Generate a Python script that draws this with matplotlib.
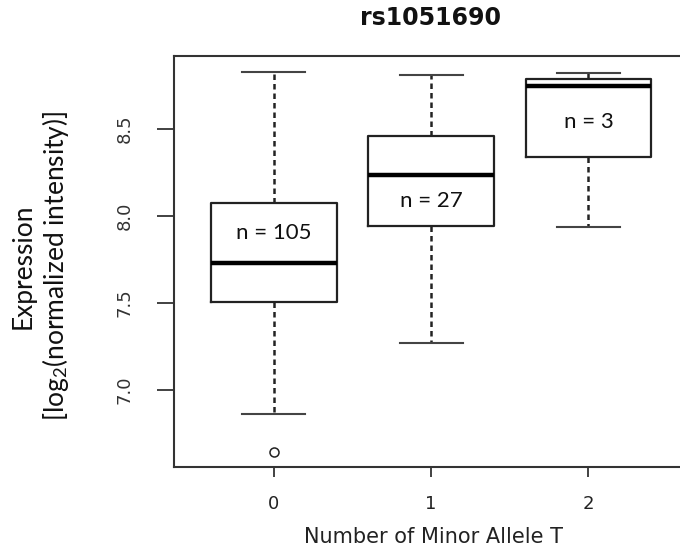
import matplotlib
matplotlib.use("Agg")
import matplotlib.pyplot as plt

# (log2 normalized intensity)
groups = ["0", "1", "2"]
counts = [105, 27, 3]
q1 = [7.505, 7.940, 8.334]
med = [7.729, 8.231, 8.746]
q3 = [8.070, 8.455, 8.783]
whislo = [6.857, 7.267, 7.932]
whishi = [8.825, 8.809, 8.819]
fliers = [[6.643], [], []]

plt.rcParams['mathtext.fontset'] = 'custom'
plt.rcParams['mathtext.rm'] = 'Lato'
plt.rcParams['mathtext.it'] = 'Lato:italic'

W, H = 680, 548
fig = plt.figure(figsize=(W / 100, H / 100), dpi=100)
# axes box in pixels: left 174, right 686 (runs off the edge), top 56, bottom 467
ax = fig.add_axes([174 / W, (H - 467) / H, (686 - 174) / W, (467 - 56) / H])

stats = []
for i in range(len(groups)):
    stats.append(dict(med=med[i], q1=q1[i], q3=q3[i], whislo=whislo[i],
                      whishi=whishi[i], fliers=fliers[i], label=groups[i]))

ink = "#222222"
ax.bxp(stats, positions=range(len(groups)), widths=0.8,
       boxprops=dict(color=ink, linewidth=1.6),
       medianprops=dict(color="black", linewidth=3.2),
       whiskerprops=dict(color=ink, linewidth=1.8, linestyle=(0, (2.2, 1.6))),
       capprops=dict(color="#444444", linewidth=1.5),
       capwidths=0.4,
       flierprops=dict(marker="o", markerfacecolor="none", markeredgecolor=ink,
                       markersize=6.5, markeredgewidth=1.1))

# n labels sit in the larger half of each box
for i, n in enumerate(counts):
    if q3[i] - med[i] > med[i] - q1[i]:
        y = (q3[i] + med[i]) / 2
    else:
        y = (q1[i] + med[i]) / 2
    ax.text(i, y, f"n = {n}", ha="center", va="center", fontsize=16,
            family="Lato", color="#111111")

ax.set_xlim(-0.635, 2.62)
ax.set_ylim(6.555, 8.917)
ax.set_yticks([7.0, 7.5, 8.0, 8.5])
ax.set_yticklabels(["7.0", "7.5", "8.0", "8.5"], rotation=90, va="center")
ax.set_xticks(range(len(groups)))
ax.set_xticklabels(groups)

for s in ax.spines.values():
    s.set_color("#333333")
    s.set_linewidth(1.5)
ax.tick_params(axis="x", length=7, width=1.3, pad=13, labelsize=13,
               colors="#333333", labelcolor="#222222")
ax.tick_params(axis="y", length=12, width=1.3, pad=17, labelsize=13,
               colors="#333333", labelcolor="#333333")

ax.set_title("rs1051690", fontsize=17, fontweight="bold", pad=22, color="#111111")
ax.set_xlabel("Number of Minor Allele T", fontsize=15, color="#222222", va="center")
ax.xaxis.set_label_coords(0.506, -0.170)
ax.set_ylabel("Expression\n[log$_2$(normalized intensity)]", fontsize=19,
              family="Lato", color="#111111", ha="center", va="center")
ax.yaxis.set_label_coords(-0.26, 0.489)

fig.savefig("out.png", dpi=100)
